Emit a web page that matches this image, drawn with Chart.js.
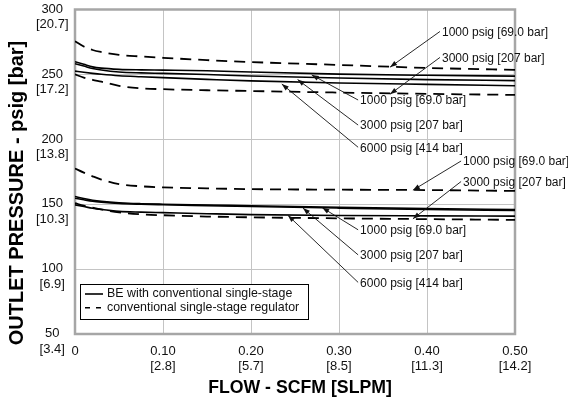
<!DOCTYPE html>
<html>
<head>
<meta charset="utf-8">
<script src="https://cdn.jsdelivr.net/npm/chart.js@4.4.1/dist/chart.umd.min.js"></script>
<style>
  html, body { margin: 0; padding: 0; background: #fff; }
  canvas { display: block; }
</style>
</head>
<body>
<canvas id="chart" width="568" height="402"></canvas>
<script>
// flow in SCFM, shared by every curve
const flow = [0, 0.01, 0.02, 0.03, 0.05, 0.075, 0.1, 0.15, 0.2, 0.3, 0.4, 0.5];

// ~250 psig set point
const conv1000Hi = [275.6, 271.5, 268.8, 267.2, 265.0, 263.8, 262.8, 261.0, 259.5, 257.3, 255.0, 253.5];
const conv3000Hi = [250.0, 247.5, 245.8, 244.4, 241.2, 239.3, 238.6, 237.8, 237.2, 236.0, 235.0, 234.2];
const be1000Hi = [259.8, 257.8, 255.8, 254.8, 253.9, 253.5, 253.3, 252.8, 251.8, 250.2, 249.3, 248.7];
const be3000Hi = [258.2, 256.4, 254.6, 253.4, 251.9, 251.2, 250.8, 249.9, 248.8, 247.2, 246.0, 245.2];
const be6000Hi = [252.5, 251.6, 250.8, 250.1, 249.0, 248.2, 247.5, 246.2, 245.0, 243.4, 242.3, 241.3];

// ~150 psig set point
const conv1000Lo = [177.5, 174.3, 171.5, 169.0, 165.5, 163.8, 163.0, 162.2, 161.6, 161.2, 160.9, 160.2];
const conv3000Lo = [150.8, 148.9, 147.4, 146.0, 143.7, 142.2, 141.5, 140.5, 139.9, 139.1, 138.5, 137.9];
const be1000Lo = [155.9, 154.4, 153.1, 152.2, 151.1, 150.4, 150.0, 149.4, 148.8, 147.6, 146.6, 145.9];
const be3000Lo = [154.6, 153.4, 152.3, 151.6, 150.6, 150.0, 149.6, 148.9, 148.2, 147.0, 145.9, 145.1];
const be6000Lo = [149.5, 148.2, 146.9, 145.9, 144.5, 143.9, 143.5, 142.7, 142.0, 141.3, 141.0, 140.8];

// tick labels
const xTickMain = ["0", "0.10", "0.20", "0.30", "0.40", "0.50"];
const xTickSub = ["", "[2.8]", "[5.7]", "[8.5]", "[11.3]", "[14.2]"];
const yTickMain = ["50", "100", "150", "200", "250", "300"];
const yTickSub = ["[3.4]", "[6.9]", "[10.3]", "[13.8]", "[17.2]", "[20.7]"];

const legendLabels = ["BE with conventional single-stage", "conventional single-stage regulator"];

// callouts: text anchor (flow, psig) and arrow tip (flow, psig)
const callouts = [
  { text: "1000 psig [69.0 bar]", tx: 0.417, ty: 282.3, px: 0.358, py: 255.6 },
  { text: "3000 psig [207 bar]",  tx: 0.417, ty: 262.3, px: 0.358, py: 234.8 },
  { text: "1000 psig [69.0 bar]", tx: 0.324, ty: 229.5, px: 0.269, py: 249.6 },
  { text: "3000 psig [207 bar]",  tx: 0.324, ty: 210.2, px: 0.253, py: 246.0 },
  { text: "6000 psig [414 bar]",  tx: 0.324, ty: 193.1, px: 0.235, py: 242.6 },
  { text: "1000 psig [69.0 bar]", tx: 0.441, ty: 182.5, px: 0.384, py: 160.8 },
  { text: "3000 psig [207 bar]",  tx: 0.441, ty: 166.7, px: 0.384, py: 138.7 },
  { text: "1000 psig [69.0 bar]", tx: 0.324, ty: 129.5, px: 0.281, py: 147.3 },
  { text: "3000 psig [207 bar]",  tx: 0.324, ty: 110.2, px: 0.259, py: 147.0 },
  { text: "6000 psig [414 bar]",  tx: 0.324, ty: 89.0,  px: 0.242, py: 141.4 }
];

const FONT = "'Liberation Sans', Arial, sans-serif";

function pts(vals) {
  return flow.map((f, i) => ({ x: f, y: vals[i] }));
}
function solid(vals) {
  return { data: pts(vals), borderColor: "#000", borderWidth: 1.6, pointRadius: 0,
           fill: false, cubicInterpolationMode: "monotone" };
}
function dashed(vals) {
  return { data: pts(vals), borderColor: "#000", borderWidth: 1.8, borderDash: [11, 7],
           pointRadius: 0, fill: false, cubicInterpolationMode: "monotone" };
}

const decor = {
  id: "decor",
  beforeDatasetsDraw(chart) {
    const { ctx, chartArea: a } = chart;
    ctx.save();
    ctx.strokeStyle = "#a6a6a6";
    ctx.lineWidth = 2.5;
    ctx.strokeRect(a.left, a.top, a.right - a.left, a.bottom - a.top);
    ctx.restore();
  },
  afterDatasetsDraw(chart) {
    const { ctx, chartArea: a } = chart;
    const xs = chart.scales.x, ys = chart.scales.y;
    ctx.save();

    // callouts
    ctx.font = "12px " + FONT;
    ctx.fillStyle = "#111";
    ctx.strokeStyle = "#111";
    ctx.textBaseline = "middle";
    ctx.textAlign = "left";
    callouts.forEach(c => {
      const tx = xs.getPixelForValue(c.tx), ty = ys.getPixelForValue(c.ty);
      const px = xs.getPixelForValue(c.px), py = ys.getPixelForValue(c.py);
      ctx.fillText(c.text, tx, ty);
      const sx = tx - 2, sy = ty - 1;
      ctx.lineWidth = 0.9;
      ctx.beginPath();
      ctx.moveTo(sx, sy);
      ctx.lineTo(px, py);
      ctx.stroke();
      const ang = Math.atan2(py - sy, px - sx);
      ctx.beginPath();
      ctx.moveTo(px, py);
      ctx.lineTo(px - 7 * Math.cos(ang) + 2.5 * Math.sin(ang), py - 7 * Math.sin(ang) - 2.5 * Math.cos(ang));
      ctx.lineTo(px - 7 * Math.cos(ang) - 2.5 * Math.sin(ang), py - 7 * Math.sin(ang) + 2.5 * Math.cos(ang));
      ctx.closePath();
      ctx.fill();
    });

    // legend box
    const lx = a.left + 5, ly = a.bottom - 50, lw = 228, lh = 35;
    ctx.fillStyle = "#fff";
    ctx.fillRect(lx, ly, lw, lh);
    ctx.strokeStyle = "#000";
    ctx.lineWidth = 1;
    ctx.strokeRect(lx + 0.5, ly + 0.5, lw, lh);
    ctx.font = "12.4px " + FONT;
    ctx.fillStyle = "#111";
    legendLabels.forEach((lab, i) => {
      const y = ly + 10 + i * 13.7;
      ctx.lineWidth = 1.6;
      ctx.setLineDash(i === 0 ? [] : [5, 6]);
      ctx.beginPath();
      ctx.moveTo(lx + 5, y);
      ctx.lineTo(lx + 23, y);
      ctx.stroke();
      ctx.setLineDash([]);
      ctx.fillText(lab, lx + 27, y);
    });

    // axis titles
    ctx.fillStyle = "#000";
    ctx.font = "bold 17.7px " + FONT;
    ctx.textAlign = "center";
    ctx.fillText("FLOW - SCFM [SLPM]", (a.left + a.right) / 2 + 5, 388);
    ctx.translate(17, 193);
    ctx.rotate(-Math.PI / 2);
    ctx.font = "bold 20px " + FONT;
    ctx.fillText("OUTLET PRESSURE - psig [bar]", 0, 0);
    ctx.restore();
  }
};

new Chart(document.getElementById("chart"), {
  type: "line",
  data: {
    datasets: [
      dashed(conv1000Hi), dashed(conv3000Hi),
      solid(be1000Hi), solid(be3000Hi), solid(be6000Hi),
      dashed(conv1000Lo), dashed(conv3000Lo),
      solid(be1000Lo), solid(be3000Lo), solid(be6000Lo)
    ]
  },
  options: {
    responsive: false,
    animation: false,
    layout: { padding: { left: 0, right: 53, top: 9.5, bottom: 0 } },
    plugins: { legend: { display: false }, tooltip: { enabled: false } },
    scales: {
      x: {
        type: "linear", min: 0, max: 0.5,
        border: { display: false },
        grid: { color: "#c4c4c4", lineWidth: 1, drawTicks: false },
        ticks: {
          stepSize: 0.1, padding: 9.2, color: "#111", maxRotation: 0,
          font: { family: FONT, size: 13, lineHeight: 1.2 },
          callback: (v, i) => xTickSub[i] ? [xTickMain[i], xTickSub[i]] : xTickMain[i]
        },
        afterFit(s) { s.height = 68; s.paddingLeft = 0; s.paddingRight = 0; }
      },
      y: {
        min: 50, max: 300,
        border: { display: false },
        grid: { color: "#c4c4c4", lineWidth: 1, drawTicks: false },
        ticks: {
          stepSize: 50, padding: 6.5, color: "#111", crossAlign: "center", labelOffset: 7.5,
          font: { family: FONT, size: 13, lineHeight: 1.2 },
          callback: (v, i) => [yTickMain[i], yTickSub[i]]
        },
        afterFit(s) { s.width = 75; s.paddingTop = 0; s.paddingBottom = 0; }
      }
    }
  },
  plugins: [decor]
});
</script>
</body>
</html>
